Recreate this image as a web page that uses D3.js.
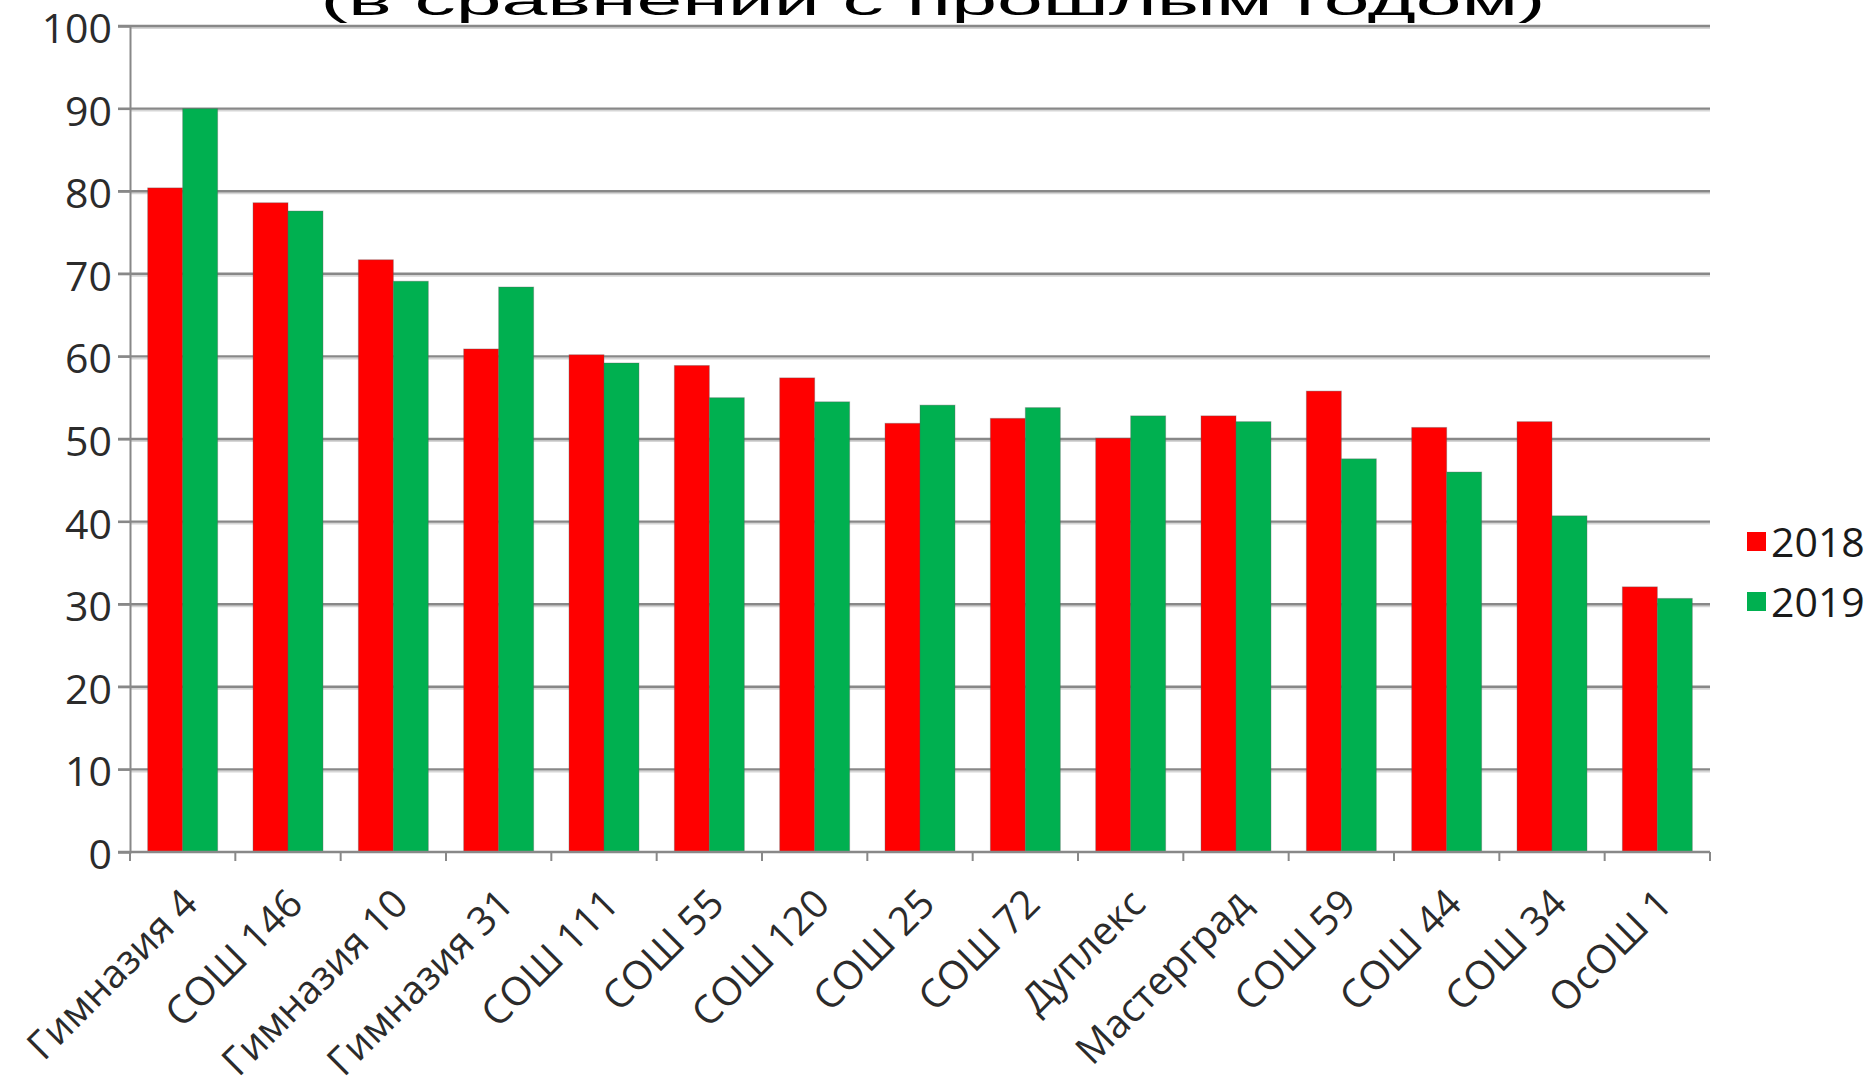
<!DOCTYPE html>
<html>
<head>
<meta charset="utf-8">
<script src="https://cdn.jsdelivr.net/npm/d3@7"></script>
<style>
  html, body { margin: 0; padding: 0; background: #fff; }
  svg { display: block; }
</style>
</head>
<body>
<svg id="chart" width="1871" height="1088"></svg>
<script>
const titleText = "(в сравнении с прошлым годом)";
const categories = ["Гимназия 4", "СОШ 146", "Гимназия 10", "Гимназия 31", "СОШ 111", "СОШ 55", "СОШ 120", "СОШ 25", "СОШ 72", "Дуплекс", "Мастерград", "СОШ 59", "СОШ 44", "СОШ 34", "ОсОШ 1"];
const seriesNames = ["2018", "2019"];
const values2018 = [80.4, 78.6, 71.7, 60.9, 60.2, 58.9, 57.4, 51.9, 52.5, 50.1, 52.8, 55.8, 51.4, 52.1, 32.1];
const values2019 = [90.0, 77.6, 69.1, 68.4, 59.2, 55.0, 54.5, 54.1, 53.8, 52.8, 52.1, 47.6, 46.0, 40.7, 30.7];
const seriesColors = ["#ff0000", "#00b050"];
const yTicks = [0, 10, 20, 30, 40, 50, 60, 70, 80, 90, 100];

(function () {
const svg = d3.select("#chart");
const W = 1871, H = 1088;
svg.append("rect").attr("width", W).attr("height", H).attr("fill", "#fff");

const mLeft = 130, mRight = 1710, mTop = 26, mBottom = 852;

const x0 = d3.scaleBand().domain(categories).range([mLeft, mRight]).paddingInner(0).paddingOuter(0);
const bw = x0.bandwidth();
const gapFrac = 0.168;
const x1 = d3.scaleBand().domain(seriesNames).range([bw * gapFrac, bw * (1 - gapFrac)]).padding(0);
const y = d3.scaleLinear().domain([0, 100]).range([mBottom, mTop]);

const tickFont = "'Open Sans', 'Noto Sans', sans-serif";
const tickSize = 41;
const catSize = 39.5;

// gridlines
const grid = svg.append("g");
yTicks.forEach(t => {
  if (t === 0) return;
  grid.append("line").attr("x1", mLeft).attr("x2", mRight)
    .attr("y1", y(t) + 2).attr("y2", y(t) + 2)
    .attr("stroke", "#d6d6d6").attr("stroke-width", 2);
  grid.append("line").attr("x1", mLeft - 12).attr("x2", mRight)
    .attr("y1", y(t)).attr("y2", y(t))
    .attr("stroke", "#888888").attr("stroke-width", 2.4);
});

// y axis
const yAxis = d3.axisLeft(y).tickValues(yTicks).tickSize(12).tickPadding(6).tickFormat(d3.format("d"));
const gy = svg.append("g").attr("transform", `translate(${mLeft},0)`).call(yAxis);
gy.select(".domain").attr("stroke", "#888888").attr("stroke-width", 2);
gy.selectAll(".tick line").attr("stroke", "#888888").attr("stroke-width", 2);
gy.selectAll(".tick text").attr("font-family", tickFont).attr("font-size", tickSize)
  .attr("fill", "#2b2b2b").attr("dy", "0.40em");

// bars
const data = categories.map((c, i) => ({ cat: c, vals: [values2018[i], values2019[i]] }));
const groups = svg.append("g").selectAll("g").data(data).join("g")
  .attr("transform", d => `translate(${x0(d.cat)},0)`);
groups.selectAll("rect").data(d => d.vals.map((v, j) => ({ key: seriesNames[j], v, j })))
  .join("rect")
  .attr("x", d => x1(d.key))
  .attr("width", x1.bandwidth())
  .attr("y", d => y(d.v))
  .attr("height", d => y(0) - y(d.v))
  .attr("fill", d => seriesColors[d.j])
  .attr("stroke", "rgba(90,90,90,0.35)").attr("stroke-width", 1);

// x axis
const gx = svg.append("g").attr("transform", `translate(0,${mBottom})`);
gx.append("line").attr("x1", mLeft - 12).attr("x2", mRight).attr("y1", 0).attr("y2", 0)
  .attr("stroke", "#888888").attr("stroke-width", 2.4);
const bounds = categories.map(c => x0(c)).concat([mRight]);
gx.selectAll("line.tk").data(bounds).join("line").attr("class", "tk")
  .attr("x1", d => d).attr("x2", d => d).attr("y1", 0).attr("y2", 9)
  .attr("stroke", "#888888").attr("stroke-width", 2);
gx.selectAll("text").data(categories).join("text")
  .attr("transform", d => `translate(${x0(d) + bw / 2 + 17},${54}) rotate(-45)`)
  .attr("text-anchor", "end")
  .attr("font-family", tickFont).attr("font-size", catSize)
  .attr("fill", "#2b2b2b")
  .text(d => d);

// legend
const lg = svg.append("g").attr("transform", "translate(1747,532)");
seriesNames.forEach((s, i) => {
  const g = lg.append("g").attr("transform", `translate(0,${i * 60})`);
  g.append("rect").attr("width", 19).attr("height", 19).attr("fill", seriesColors[i]);
  g.append("text").attr("x", 24).attr("y", 10).attr("dy", "0.36em")
    .attr("font-family", tickFont).attr("font-size", tickSize).attr("fill", "#1a1a1a").text(s);
});

// title (mostly cut off at the top, horizontally stretched as in the source)
const tg = svg.append("g").attr("transform", "translate(933,14.5)");
const title = tg.append("text").attr("x", 0).attr("y", 0).attr("text-anchor", "middle")
  .attr("font-family", "'Liberation Sans', Arial, sans-serif").attr("font-size", 40)
  .attr("fill", "#000").text(titleText);
const tw = title.node().getComputedTextLength();
title.attr("transform", `scale(${1225 / tw},1)`);
})();
</script>
</body>
</html>
